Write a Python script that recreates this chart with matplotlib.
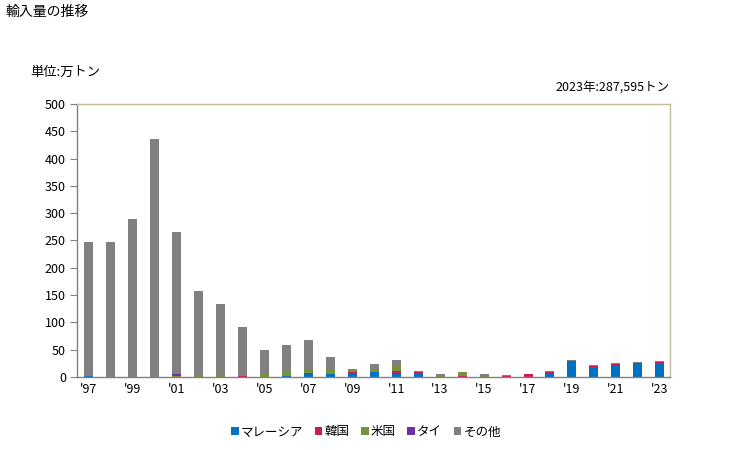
import numpy as np
import matplotlib.pyplot as plt

plt.rcParams['font.family'] = ['Noto Sans CJK JP', 'DejaVu Sans']

years = list(range(1997, 2024))
xLabels = ["'%02d" % (y % 100) if y % 2 == 1 else "" for y in years]

# 万トン
malaysia = [2, 0, 0, 0, 0, 0, 0, 0, 0, 2.5, 5, 6, 6, 8.5, 5, 5, 0, 0.5, 0, 0.5, 0.5, 8, 27, 16.5, 19.5, 26, 25.2]
korea = [0, 0, 0, 0, 0, 0, 0, 1.5, 0, 0, 2, 0, 2.5, 0, 5.5, 3.7, 0, 2, 0, 1.5, 4.3, 1.8, 3, 3.7, 4.3, 0, 1.8]
usa = [0, 0, 0, 0, 1, 1, 1, 3, 5, 6, 6, 7, 5, 5, 9, 0, 2.5, 6, 2, 2, 0, 0, 0, 0, 0, 0, 0]
thai = [0, 0, 0, 0, 4, 0, 0, 0, 0, 0, 0, 0, 0, 0, 0, 0, 0, 0, 0, 0, 0, 0, 0, 0, 0, 0, 0]
others = [246, 248, 290, 435, 260, 157, 133, 87.5, 45, 50.5, 55, 24, 2, 9.5, 12, 3, 2.5, 1.5, 3, 0, 1, 1.8, 1.8, 2.4, 2.4, 1.8, 1.76]

seriesNames = ['マレーシア', '韓国', '米国', 'タイ', 'その他']
seriesColors = ['#0070c0', '#d0185c', '#76933c', '#7030a0', '#808080']
seriesData = [malaysia, korea, usa, thai, others]

fig = plt.figure(figsize=(7.29, 4.5), dpi=100)
ax = fig.add_axes([77 / 729, 1 - 377 / 450, (670 - 77) / 729, (377 - 104) / 450])

x = np.arange(len(years))
bottom = np.zeros(len(years))
for name, color, vals in zip(seriesNames, seriesColors, seriesData):
    vals = np.array(vals, dtype=float)
    ax.bar(x, vals, width=0.41, bottom=bottom, color=color, label=name, linewidth=0)
    bottom += vals

ax.set_xlim(-0.52, 26.46)
ax.set_ylim(0, 500)
ax.set_yticks(np.arange(0, 501, 50))
ax.set_xticks(x)
ax.set_xticklabels(xLabels)
ax.tick_params(axis='y', direction='out', length=5, color='#808080', labelsize=9, pad=3)
ax.tick_params(axis='x', length=0, labelsize=9, pad=4)

ax.spines['left'].set_color('#808080')
ax.spines['bottom'].set_color('#808080')
ax.spines['top'].set_color('#c4bc96')
ax.spines['right'].set_color('#c4bc96')
for s in ax.spines.values():
    s.set_linewidth(1)

fig.text(5 / 729, 1 - 12 / 450, '輸入量の推移', fontsize=10, va='center', ha='left')
fig.text(30 / 729, 1 - 72 / 450, '単位:万トン', fontsize=9.5, va='center', ha='left')
fig.text(670 / 729, 1 - 87 / 450, '2023年:287,595トン', fontsize=9, va='center', ha='right')

fig.legend(loc='center', bbox_to_anchor=(366 / 729, 1 - 432 / 450), ncol=5, frameon=False,
           fontsize=9, handlelength=0.6, handleheight=0.6, handletextpad=0.2, columnspacing=0.9,
           borderpad=0)

fig.savefig('out.png', dpi=100)
